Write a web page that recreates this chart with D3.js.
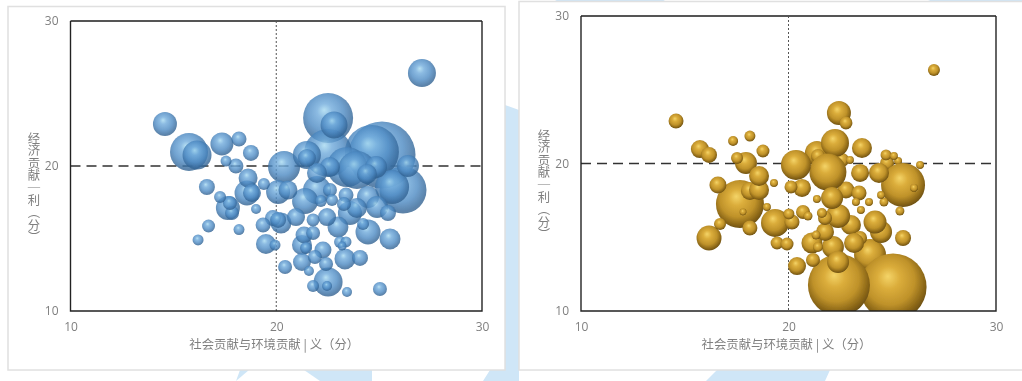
<!DOCTYPE html>
<html><head><meta charset="utf-8">
<script src="https://cdn.jsdelivr.net/npm/d3@7/dist/d3.min.js"></script>
<style>html,body{margin:0;padding:0;background:#fff;overflow:hidden}svg{display:block}</style>
</head><body><svg id="c" width="1022" height="381"></svg>
<script>
const xTicks=[10,20,30], yTicks=[10,20,30];
const xTitle="社会贡献与环境贡献 | 义\uFF08分\uFF09";
const yTitle="经济贡献\uFF5C利\uFF08分\uFF09";
const refX=20, refY=20;

const blueX=[14.59,15.76,16.15,17.36,18.19,18.77,17.56,18.04,16.63,18.63,18.58,19.40,20.38,17.27,17.65,17.85,17.75,19.02,16.71,18.19,16.20,19.50,19.94,20.43,19.36,19.84,20.09,20.23,20.96,22.52,22.52,22.81,25.14,24.65,21.49,21.49,23.44,23.92,22.61,21.98,24.85,24.41,26.40,26.16,25.63,24.46,24.90,25.43,23.92,23.58,23.39,23.29,22.61,22.71,22.17,21.40,21.98,20.57,20.09,18.82,21.79,22.47,23.00,24.22,24.46,25.53,21.79,21.35,21.25,21.45,22.27,21.88,23.10,23.39,23.20,23.34,24.07,21.25,21.59,22.42,22.52,21.79,22.47,23.44,25.04,27.08];
const blueY=[22.90,20.97,20.76,21.52,21.86,20.90,20.34,20.00,18.55,19.17,18.14,18.76,19.93,17.86,17.10,16.76,17.45,17.03,15.86,15.62,14.90,14.62,14.55,13.03,15.93,16.41,16.28,16.07,16.48,20.90,23.31,22.83,20.76,20.97,20.76,20.55,19.93,19.72,19.93,19.52,19.93,19.45,20.00,18.34,18.55,17.86,17.17,16.76,17.10,16.76,18.00,17.38,18.34,17.66,17.59,17.59,18.34,18.34,18.21,18.14,16.28,16.48,15.79,16.00,15.45,14.97,15.38,15.24,14.55,14.34,14.21,13.72,14.76,14.76,14.48,13.59,13.66,13.38,12.76,13.24,12.00,11.72,11.72,11.31,11.52,26.41];
const blueSize=[144,361,210,132,56,64,30,56,64,90,156,36,256,36,144,49,49,25,42,30,30,100,30,49,56,64,64,110,81,576,625,182,1122,729,196,81,400,361,100,100,121,100,121,552,289,121,121,64,100,144,56,49,49,36,36,169,196,90,144,81,42,81,110,36,156,110,49,72,100,36,72,49,36,30,20,110,64,81,25,49,210,36,25,25,49,196];

const goldX=[22.58,22.96,24.75,25.28,23.93,22.77,21.37,21.42,22.24,25.04,22.43,17.66,25.52,21.90,20.36,19.35,16.17,23.01,22.39,22.43,24.46,24.17,21.13,22.10,22.14,22.39,17.95,23.45,23.16,24.36,23.54,18.14,18.58,18.58,15.73,16.17,23.45,21.76,20.41,20.65,25.52,16.60,23.40,14.58,20.17,18.14,20.70,21.76,21.18,20.12,18.77,22.77,19.45,19.93,17.52,16.70,24.70,18.14,20.02,21.61,21.42,21.33,17.33,24.60,20.94,25.37,19.30,18.96,23.25,23.88,21.37,23.49,24.46,25.08,26.34,26.05,17.81,27.01];
const goldY=[20.24,20.24,20.03,20.17,13.80,18.20,20.71,20.51,21.39,11.63,11.76,17.25,18.54,19.42,19.90,15.97,14.95,15.83,16.44,23.42,15.36,16.03,14.61,17.66,14.34,13.32,20.03,14.95,14.61,19.36,21.05,18.14,18.20,19.15,20.98,20.58,19.36,15.36,13.05,18.34,14.95,18.54,18.00,22.88,16.03,15.63,16.71,16.31,13.46,18.41,20.85,22.75,14.61,14.54,20.37,15.90,20.58,21.86,16.58,16.64,14.34,15.15,21.53,17.39,16.44,16.78,18.68,17.05,17.39,17.39,17.59,16.85,17.86,20.51,19.90,18.34,16.71,26.34];
const goldSize=[49,16,49,16,256,72,144,49,196,1122,961,576,484,342,225,196,156,100,144,144,121,132,110,121,121,121,121,49,100,100,100,81,100,100,81,64,81,81,81,81,64,72,56,56,56,56,49,49,49,42,42,42,42,42,36,36,30,30,30,25,25,20,25,20,20,20,16,16,16,16,16,16,16,16,16,16,12,36];

const svg=d3.select("#c");
const defs=svg.append("defs");
function grad(id,stops){
  const g=defs.append("radialGradient").attr("id",id).attr("cx",.47).attr("cy",.43).attr("r",.6).attr("fx",.42).attr("fy",.34);
  stops.forEach(s=>g.append("stop").attr("offset",s[0]).attr("stop-color",s[1]));
}
grad("bl",[[0,"#a6d9f0"],[.25,"#6faadb"],[.6,"#4d8ac3"],[.88,"#336698"],[.96,"#33628f"],[1,"#6a9ccb"]]);
grad("go",[[0,"#f4d468"],[.28,"#dbad3b"],[.62,"#bf922a"],[.86,"#886416"],[.95,"#6f5211"],[1,"#ab8f46"]]);
defs.append("filter").attr("id","soft").append("feGaussianBlur").attr("stdDeviation",.4);

const bg=svg.append("g").attr("fill","#cfe6f7");
["505,105 519,110 519,381 483,381 490,370 505,370","304,370 372,370 372,381 320,381","240,370 249,370 236,381","717,370 830,370 825,381 706,381","555,0 665,0 660,3 560,3","928,0 1022,0 1022,3 935,3"]
 .forEach(p=>bg.append("polygon").attr("points",p));

function panel(o){
  svg.append("rect").attr("x",o.bx).attr("y",o.by).attr("width",o.bw).attr("height",o.bh).attr("fill","#fff").attr("stroke","#e0e0e0").attr("stroke-width",1.5);
  const x=d3.scaleLinear().domain([10,30]).range([o.l,o.r]);
  const y=d3.scaleLinear().domain([10,30]).range([o.b,o.t]);
  const size=d3.scaleSqrt().domain([0,1600]).range([0,40]);
  const g=svg.append("g").attr("filter","url(#soft)");
  const ax=g.append("g").attr("transform",`translate(0,${o.b})`).call(d3.axisBottom(x).tickValues(xTicks).tickSize(0).tickPadding(11));
  const ay=g.append("g").attr("transform",`translate(${o.l},0)`).call(d3.axisLeft(y).tickValues(yTicks).tickSize(0).tickPadding(12));
  [ax,ay].forEach(a=>{a.select(".domain").remove();a.selectAll("text").attr("fill","#7f7f7f").style("font","12px 'Open Sans',sans-serif");});
  const clipId="clip"+o.id;
  defs.append("clipPath").attr("id",clipId).append("rect").attr("x",o.l).attr("y",o.t).attr("width",o.r-o.l).attr("height",o.b-o.t);
  g.append("line").attr("x1",x(refX)).attr("x2",x(refX)).attr("y1",o.t).attr("y2",o.b).attr("stroke","#555").attr("stroke-width",1).attr("stroke-dasharray","2,2");
  g.append("line").attr("x1",o.l).attr("x2",o.r).attr("y1",y(refY)).attr("y2",y(refY)).attr("stroke","#333").attr("stroke-width",1.6).attr("stroke-dasharray","10,6");
  let pts=o.xs.map((v,i)=>({x:v,y:o.ys[i],s:o.ss[i]}));
  if(o.sort) pts=pts.sort((a,b)=>b.s-a.s);
  g.append("g").attr("clip-path",`url(#${clipId})`).selectAll("circle").data(pts).join("circle")
    .attr("cx",d=>x(d.x)).attr("cy",d=>y(d.y)).attr("r",d=>size(d.s)).attr("fill",`url(#${o.fill})`).attr("opacity",o.op);
  g.append("path").attr("d",`M${o.l},${o.t}H${o.r}`).attr("stroke","#555").attr("stroke-width",2).attr("fill","none");
  g.append("path").attr("d",`M${o.l},${o.t}V${o.b}H${o.r}V${o.t}`).attr("stroke","#222").attr("stroke-width",1.4).attr("fill","none");
  g.append("text").attr("x",(o.l+o.r)/2-2).attr("y",o.b+38).attr("text-anchor","middle").attr("fill","#7f7f7f").style("font","12.4px 'Noto Sans CJK SC',sans-serif").text(xTitle);
  g.append("text").attr("x",o.tx).attr("y",o.ty).attr("fill","#7f7f7f").style("font","12.4px 'Noto Sans CJK SC',sans-serif").style("writing-mode","vertical-rl").style("text-orientation","mixed").text(yTitle);
}
panel({id:"a",bx:8,by:6.5,bw:497,bh:363.5,l:70.5,r:482,t:21,b:311,tx:34,ty:132,xs:blueX,ys:blueY,ss:blueSize,fill:"bl",op:.8,sort:true});
panel({id:"b",bx:519,by:1.5,bw:510,bh:368.5,l:581,r:996,t:16,b:311,tx:544,ty:129,xs:goldX,ys:goldY,ss:goldSize,fill:"go",op:1,sort:false});
</script></body></html>
